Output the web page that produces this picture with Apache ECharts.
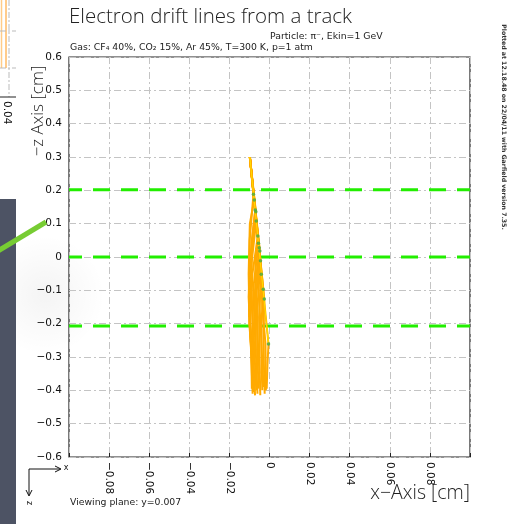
<!DOCTYPE html>
<html>
<head>
<meta charset="utf-8">
<script src="https://cdn.jsdelivr.net/npm/echarts@6/dist/echarts.min.js"></script>
<style>html,body{margin:0;padding:0;background:#fff}#c{width:528px;height:524px}</style>
</head>
<body>
<div id="c"></div>
<script>
// ---- data ----
const titleText = 'Electron drift lines from a track';
const particleText = 'Particle: π⁻, Ekin=1 GeV';
const gasText = 'Gas: CF₄ 40%, CO₂ 15%, Ar 45%, T=300 K, p=1 atm';
const plottedText = 'Plotted at 12.18.48 on 22/04/11 with Garfield version 7.35.';
const viewText = 'Viewing plane: y=0.007';
const xAxisName = 'x−Axis [cm]';
const yAxisName = '−z Axis [cm]';

const xTicks = [-0.08, -0.06, -0.04, -0.02, 0, 0.02, 0.04, 0.06, 0.08];
const xTickLabels = ['−0.08', '−0.06', '−0.04', '−0.02', '0', '0.02', '0.04', '0.06', '0.08'];
const yTicks = [-0.6, -0.5, -0.4, -0.3, -0.2, -0.1, 0, 0.1, 0.2, 0.3, 0.4, 0.5, 0.6];
const yTickLabels = ['−0.6', '−0.5', '−0.4', '−0.3', '−0.2', '−0.1', '0', '0.1', '0.2', '0.3', '0.4', '0.5', '0.6'];

// wire planes (green dashed)
const wireZ = [0.202, 0.0, -0.207];

// track clusters (x, -z)
const clusterX = [-0.0080, -0.0076, -0.0071, -0.0068, -0.0066, -0.0058, -0.0055, -0.0051, -0.0048, -0.0045, -0.0041, -0.0031, -0.0026, -0.0005];
const clusterZ = [0.188, 0.171, 0.141, 0.136, 0.108, 0.063, 0.041, 0.028, 0.018, -0.011, -0.052, -0.097, -0.126, -0.261];

// drift line tip (upper end)
const tipPoint = [-0.0098, 0.300];

// downward drift lines (each a list of [x, -z])
const driftDown = [
  [[-0.0080, 0.188], [-0.0099, 0.05], [-0.0102, -0.15], [-0.0090, -0.30], [-0.0088, -0.395]],
  [[-0.0076, 0.171], [-0.0098, 0.10], [-0.0104, -0.05], [-0.0100, -0.18]],
  [[-0.0071, 0.141], [-0.0096, 0.00], [-0.0104, -0.12], [-0.0094, -0.25], [-0.0084, -0.41]],
  [[-0.0068, 0.136], [-0.0092, 0.00], [-0.0101, -0.20], [-0.0082, -0.33]],
  [[-0.0066, 0.108], [-0.0090, -0.02], [-0.0100, -0.18], [-0.0080, -0.405]],
  [[-0.0058, 0.063], [-0.0085, -0.05], [-0.0095, -0.20], [-0.0077, -0.38]],
  [[-0.0055, 0.041], [-0.0078, -0.08], [-0.0086, -0.22], [-0.0072, -0.415]],
  [[-0.0051, 0.028], [-0.0072, -0.10], [-0.0078, -0.25], [-0.0066, -0.40]],
  [[-0.0048, 0.018], [-0.0066, -0.12], [-0.0070, -0.26], [-0.0060, -0.41]],
  [[-0.0045, -0.011], [-0.0060, -0.15], [-0.0062, -0.28], [-0.0054, -0.395]],
  [[-0.0041, -0.052], [-0.0052, -0.18], [-0.0050, -0.30], [-0.0046, -0.415]],
  [[-0.0031, -0.097], [-0.0040, -0.20], [-0.0040, -0.31], [-0.0036, -0.40]],
  [[-0.0026, -0.126], [-0.0030, -0.22], [-0.0028, -0.32], [-0.0024, -0.41]],
  [[-0.0005, -0.261], [-0.0010, -0.32], [-0.0014, -0.395]],
  [[-0.0048, 0.018], [-0.0058, -0.06], [-0.0045, -0.20], [-0.0030, -0.39]],
  [[-0.0041, -0.052], [-0.0036, -0.15], [-0.0020, -0.26], [-0.0018, -0.40]],
  [[-0.0058, 0.063], [-0.0070, -0.02], [-0.0065, -0.17], [-0.0050, -0.35]],
  [[-0.0071, 0.141], [-0.0088, 0.05], [-0.0090, -0.10], [-0.0075, -0.30]]
];
// yellow edge line
const yellowLine = [[-0.0098, 0.300], [-0.0005, -0.261], [-0.0012, -0.21]];

// ---- chart ----
const chart = echarts.init(document.getElementById('c'), null, {renderer: 'canvas'});
const FONT = 'DejaVu Sans';

function lbl(ticks, labels, v) {
  for (let i = 0; i < ticks.length; i++) if (Math.abs(ticks[i] - v) < 1e-6) return labels[i];
  return '';
}

const series = [];
// wires
wireZ.forEach(z => {
  series.push({
    type: 'line', silent: true, symbol: 'none', z: 3,
    data: [[-0.1, z], [0.1, z]],
    lineStyle: {color: '#22ee00', width: 3, type: [17, 11], dashOffset: 4}
  });
});
// upward drift lines
clusterX.forEach((x, i) => {
  series.push({
    type: 'line', silent: true, symbol: 'none', z: 4,
    data: [[x, clusterZ[i]], tipPoint],
    lineStyle: {color: '#ffaa00', width: 2}
  });
});
driftDown.forEach(d => {
  series.push({
    type: 'line', silent: true, symbol: 'none', z: 4,
    data: d,
    lineStyle: {color: '#ffaa00', width: 2}
  });
});
series.push({
  type: 'line', silent: true, symbol: 'none', z: 5,
  data: yellowLine,
  lineStyle: {color: '#ffdd00', width: 1}
});
// clusters
series.push({
  type: 'scatter', silent: true, z: 6,
  symbolSize: 3.5,
  data: clusterX.map((x, i) => [x, clusterZ[i]]),
  itemStyle: {color: '#44aa44'}
});

chart.setOption({
  backgroundColor: '#ffffff',
  animation: false,
  grid: {left: 69, right: 58, top: 57, bottom: 67, show: true, borderColor: '#222', borderWidth: 1.2, containLabel: false},
  xAxis: {
    type: 'value', min: -0.1, max: 0.1, interval: 0.02,
    axisLine: {show: false, onZero: false},
    axisTick: {show: true, inside: true, length: 4, lineStyle: {color: '#222'}},
    splitLine: {show: true, lineStyle: {color: '#c4c4c4', width: 1, type: [7, 3, 2, 3]}},
    axisLabel: {
      rotate: -90, margin: 5, fontFamily: FONT, fontSize: 10.5, color: '#111',
      formatter: v => lbl(xTicks, xTickLabels, v)
    }
  },
  yAxis: {
    type: 'value', min: -0.6, max: 0.6, interval: 0.1,
    axisLine: {show: false, onZero: false},
    axisTick: {show: false},
    splitLine: {show: true, lineStyle: {color: '#c4c4c4', width: 1, type: [7, 3, 2, 3]}},
    axisLabel: {
      margin: 7, fontFamily: FONT, fontSize: 10.5, color: '#111',
      formatter: v => lbl(yTicks, yTickLabels, v)
    }
  },
  series: series,
  graphic: [
    // left-edge screenshot artifacts
    {type: 'circle', silent: true, z: -10, shape: {cx: 45, cy: 295, r: 60},
      style: {fill: new echarts.graphic.RadialGradient(0.5, 0.5, 0.5, [{offset: 0, color: 'rgba(0,0,0,0.045)'}, {offset: 1, color: 'rgba(0,0,0,0)'}])}},
    {type: 'rect', silent: true, z: 1, shape: {x: 0, y: 199, width: 16, height: 325}, style: {fill: '#4d5364'}},
    {type: 'line', silent: true, z: 2, shape: {x1: -2, y1: 251, x2: 46, y2: 222}, style: {stroke: '#77cc33', lineWidth: 5}},
    {type: 'line', silent: true, shape: {x1: 1.5, y1: 0, x2: 1.5, y2: 68}, style: {stroke: '#ffcc88', lineWidth: 1.5}},
    {type: 'line', silent: true, shape: {x1: 6, y1: 0, x2: 6, y2: 68}, style: {stroke: '#ffbb66', lineWidth: 1.5}},
    {type: 'line', silent: true, shape: {x1: 9, y1: 0, x2: 9, y2: 97}, style: {stroke: '#bbbbbb', lineWidth: 1, lineDash: [6, 2, 2, 2]}},
    {type: 'line', silent: true, shape: {x1: 0, y1: 31, x2: 16, y2: 31}, style: {stroke: '#bbbbbb', lineWidth: 1, lineDash: [6, 2, 2, 2]}},
    {type: 'line', silent: true, shape: {x1: 0, y1: 68, x2: 16, y2: 68}, style: {stroke: '#bbbbbb', lineWidth: 1, lineDash: [6, 2, 2, 2]}},
    {type: 'line', silent: true, shape: {x1: 0, y1: 97, x2: 16, y2: 97}, style: {stroke: '#222', lineWidth: 1}},
    {type: 'text', silent: true, x: 7, y: 101, rotation: -Math.PI / 2,
      style: {text: '0.04', fontFamily: FONT, fontSize: 10.5, fill: '#111', textAlign: 'left', textVerticalAlign: 'middle'}},
    // titles
    {type: 'text', silent: true, x: 69, y: 17,
      style: {text: titleText, fontFamily: 'Open Sans', fontWeight: 300, fontSize: 20.5, fill: '#222', textAlign: 'left', textVerticalAlign: 'middle'}},
    {type: 'text', silent: true, x: 270, y: 37,
      style: {text: particleText, fontFamily: FONT, fontSize: 9.3, fill: '#222', textAlign: 'left', textVerticalAlign: 'middle'}},
    {type: 'text', silent: true, x: 70, y: 48,
      style: {text: gasText, fontFamily: FONT, fontSize: 9.3, fill: '#222', textAlign: 'left', textVerticalAlign: 'middle'}},
    {type: 'text', silent: true, x: 504, y: 127, rotation: -Math.PI / 2,
      style: {text: plottedText, fontFamily: FONT, fontWeight: 'bold', fontSize: 6.2, fill: '#333', textAlign: 'center', textVerticalAlign: 'middle'}},
    // axis names
    {type: 'text', silent: true, x: 38, y: 111, rotation: Math.PI / 2,
      style: {text: yAxisName, fontFamily: 'Open Sans', fontWeight: 300, fontSize: 17, fill: '#222', textAlign: 'center', textVerticalAlign: 'middle'}},
    {type: 'text', silent: true, x: 470, y: 493,
      style: {text: xAxisName, fontFamily: 'Open Sans', fontWeight: 300, fontSize: 19.5, fill: '#222', textAlign: 'right', textVerticalAlign: 'middle'}},
    {type: 'text', silent: true, x: 70, y: 503,
      style: {text: viewText, fontFamily: FONT, fontSize: 9.3, fill: '#222', textAlign: 'left', textVerticalAlign: 'middle'}},
    // orientation indicator
    {type: 'polyline', silent: true, shape: {points: [[29, 469], [60, 469]]}, style: {stroke: '#111', lineWidth: 1}},
    {type: 'polyline', silent: true, shape: {points: [[55, 466], [61, 469], [55, 472]]}, style: {stroke: '#111', lineWidth: 1, fill: null}},
    {type: 'polyline', silent: true, shape: {points: [[29, 469], [29, 495]]}, style: {stroke: '#111', lineWidth: 1}},
    {type: 'polyline', silent: true, shape: {points: [[26, 490], [29, 496], [32, 490]]}, style: {stroke: '#111', lineWidth: 1, fill: null}},
    {type: 'text', silent: true, x: 66, y: 468,
      style: {text: 'x', fontFamily: FONT, fontSize: 8, fill: '#111', textAlign: 'center', textVerticalAlign: 'middle'}},
    {type: 'text', silent: true, x: 29, y: 503, rotation: -Math.PI / 2,
      style: {text: 'z', fontFamily: FONT, fontSize: 8, fill: '#111', textAlign: 'center', textVerticalAlign: 'middle'}}
  ]
});
</script>
</body>
</html>
